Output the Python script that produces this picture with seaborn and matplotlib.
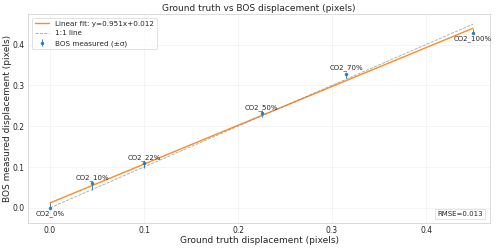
import numpy as np
import pandas as pd
import seaborn as sns
from matplotlib import pyplot as plt

# values
labels = ['CO2_0%', 'CO2_10%', 'CO2_22%', 'CO2_50%', 'CO2_70%', 'CO2_100%']
gt = [0.0, 0.045, 0.1, 0.225, 0.315, 0.45]
bos = [0.0, 0.0605, 0.1095, 0.232, 0.329, 0.429]
err_lo = [0.0, 0.017, 0.012, 0.010, 0.012, 0.0]
err_hi = [0.013, 0.0, 0.005, 0.007, 0.0, 0.010]
fit_slope = 0.951
fit_icpt = 0.012
rmse = 0.013

sns.set_style("whitegrid", {'grid.color': '.93', 'axes.edgecolor': '.75'})

fig, ax = plt.subplots(figsize=(10, 4.96), dpi=50)
fig.subplots_adjust(left=0.056, right=0.98, bottom=0.101, top=0.944)

line_x = np.array([gt[0], gt[-1]])
lines = pd.DataFrame({'x': line_x,
                      'fit': fit_slope * line_x + fit_icpt,
                      'one': line_x})

sns.lineplot(data=lines, x='x', y='fit', ax=ax, color='tab:orange', lw=2,
             alpha=0.9, label=f'Linear fit: y={fit_slope:.3f}x+{fit_icpt:.3f}')
sns.lineplot(data=lines, x='x', y='one', ax=ax, color='gray', lw=1.2,
             linestyle='--', alpha=0.7, label='1:1 line')

ax.errorbar(gt, bos, yerr=[err_lo, err_hi], fmt='o', color='tab:blue',
            ms=4, ecolor='tab:blue', elinewidth=1.3, alpha=0.9,
            label='BOS measured (±σ)')

for lab, x, y in zip(labels, gt, bos):
    if lab in ('CO2_0%', 'CO2_100%'):
        ax.annotate(lab, (x, y), xytext=(0, -3), textcoords='offset points',
                    ha='center', va='top', fontsize=10, color='0.15')
    else:
        ax.annotate(lab, (x, y), xytext=(0, 3), textcoords='offset points',
                    ha='center', va='bottom', fontsize=10, color='0.15')

ax.text(0.985, 0.03, f'RMSE={rmse:.3f}', transform=ax.transAxes,
        ha='right', va='bottom', fontsize=10, color='0.15',
        bbox=dict(facecolor='white', edgecolor='0.85', boxstyle='square,pad=0.3'))

ax.set_xlim(-0.0234, 0.468)
ax.set_ylim(-0.037, 0.475)
ax.set_xticks([0.0, 0.1, 0.2, 0.3, 0.4])
ax.set_yticks([0.0, 0.1, 0.2, 0.3, 0.4])
ax.tick_params(labelsize=11, pad=1)
ax.set_xlabel('Ground truth displacement (pixels)', fontsize=13, labelpad=1)
ax.set_ylabel('BOS measured displacement (pixels)', fontsize=13, labelpad=1)
ax.set_title('Ground truth vs BOS displacement (pixels)', fontsize=13, pad=4)
ax.legend(loc='upper left', fontsize=10.5)

fig.savefig('out.png', dpi=50)
